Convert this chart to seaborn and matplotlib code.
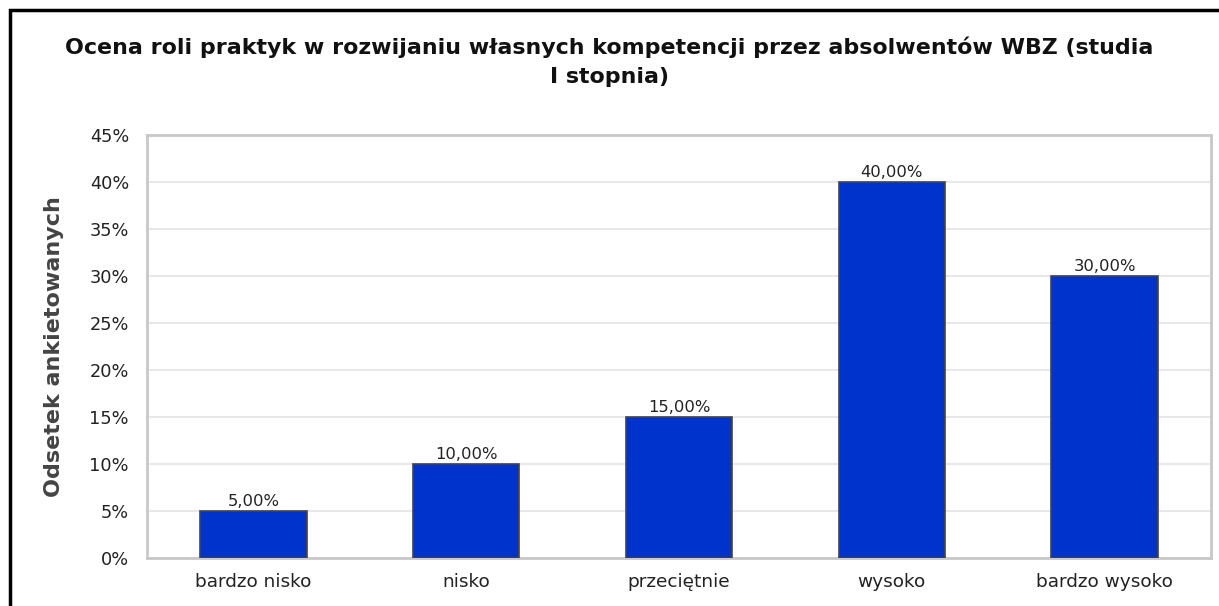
import matplotlib
matplotlib.use("Agg")
import matplotlib.pyplot as plt
import seaborn as sns
import pandas as pd
import numpy as np
from matplotlib.patches import Rectangle
from matplotlib.ticker import FixedLocator

categories = ["bardzo nisko", "nisko", "przeciętnie", "wysoko", "bardzo wysoko"]
values = [5.0, 10.0, 15.0, 40.0, 30.0]
value_labels = ["5,00%", "10,00%", "15,00%", "40,00%", "30,00%"]
yticks = [0, 5, 10, 15, 20, 25, 30, 35, 40, 45]
ytick_labels = ["0%", "5%", "10%", "15%", "20%", "25%", "30%", "35%", "40%", "45%"]
title = "Ocena roli praktyk w rozwijaniu własnych kompetencji przez absolwentów WBZ (studia\nI stopnia)"
ylabel = "Odsetek ankietowanych"

sns.set_theme(style="white")
plt.rcParams['font.family'] = ['DejaVu Sans']

df = pd.DataFrame({"cat": categories, "val": values})

fig = plt.figure(figsize=(12.19, 6.06), dpi=100)
ax = fig.add_axes([147/1219, 1-558/606, (1211-147)/1219, (558-135)/606])

sns.barplot(data=df, x="cat", y="val", ax=ax, color="#0033CC", width=0.5,
            edgecolor="#444444", linewidth=1.2, saturation=1, zorder=3)

ax.set_ylim(0, 45)
ax.set_xlim(-0.5, len(categories) - 0.5)
ax.set_yticks(yticks)
ax.set_yticklabels(ytick_labels, fontsize=12.8, color="#222222")
ax.yaxis.grid(True, color="#e8e8e8", linewidth=1.5, zorder=0)
ax.set_axisbelow(True)
ax.tick_params(axis="y", length=0, pad=13)
ax.tick_params(axis="x", which="major", length=0, pad=11, labelsize=13.3, labelcolor="#222222")
ax.xaxis.set_minor_locator(FixedLocator(np.arange(-0.5, len(categories), 1.0)))
ax.tick_params(axis="x", which="minor", length=8, width=1.5, color="#c8c8c8", direction="out")
ax.set_xlabel("")
ax.set_ylabel(ylabel, fontsize=16, fontweight="bold", color="#444444", labelpad=18)
for s in ax.spines.values():
    s.set_color("#c8c8c8")
    s.set_linewidth(2)

for i, (v, lab) in enumerate(zip(values, value_labels)):
    ax.text(i, v + 0.2, lab, ha="center", va="bottom", fontsize=11.8, color="#222222", zorder=4)

for k, line in enumerate(title.split("\n")):
    fig.text(0.5, 1 - (47 + 30 * k)/606, line, ha="center", va="center", fontsize=15.9,
             fontweight="bold", color="#111111")

fig.patches.append(Rectangle((9.5/1219, -0.1), 1.2, 1 - 9.5/606 + 0.1, transform=fig.transFigure,
                             fill=False, edgecolor="black", linewidth=2.5, zorder=10))

fig.savefig("out.png", dpi=100)
